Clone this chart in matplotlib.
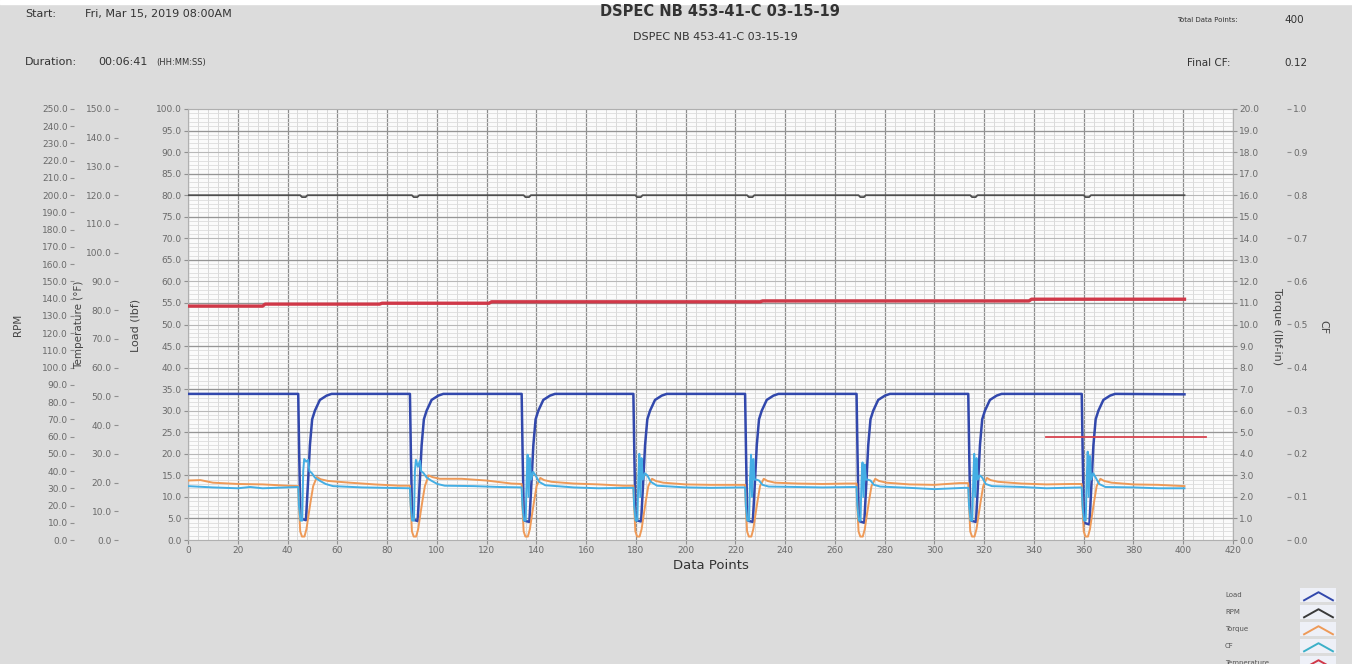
import matplotlib.pyplot as plt
from matplotlib.lines import Line2D
from matplotlib.path import Path
from matplotlib.patches import Rectangle
from matplotlib.ticker import MultipleLocator, FormatStrFormatter

# header values
title = 'DSPEC NB 453-41-C 03-15-19'
start_text = 'Fri, Mar 15, 2019 08:00AM'
duration_text = '00:06:41'
total_points = '400'
final_cf = '0.12'

# Load (lbf)
load_x = [0, 20,
          44.3, 44.7, 45.2, 47.4, 48.3, 49.0, 49.9, 51.0, 53.0, 55.7, 57.7,
          89.2, 89.6, 90.1, 92.3, 93.2, 93.9, 94.8, 95.9, 97.9, 100.6, 102.6,
          134.1, 134.5, 135.0, 137.2, 138.1, 138.8, 139.7, 140.8, 142.8, 145.5, 147.5,
          179.0, 179.4, 179.9, 182.1, 183.0, 183.7, 184.6, 185.7, 187.7, 190.4, 192.4,
          223.9, 224.3, 224.8, 227.0, 227.9, 228.6, 229.5, 230.6, 232.6, 235.3, 237.3,
          268.7, 269.1, 269.6, 271.8, 272.7, 273.4, 274.3, 275.4, 277.4, 280.1, 282.1,
          313.6, 314.0, 314.5, 316.7, 317.6, 318.3, 319.2, 320.3, 322.3, 325.0, 327.0,
          359.2, 359.6, 360.1, 362.3, 363.2, 363.9, 364.8, 365.9, 367.9, 370.6, 372.6,
          400.5]
load_y = [33.9, 33.9,
          33.9, 19.5, 5.0, 4.6, 14.0, 22.0, 28.0, 30.0, 32.5, 33.5, 33.9,
          33.9, 19.5, 4.8, 4.4, 14.0, 22.0, 28.0, 30.0, 32.5, 33.5, 33.9,
          33.9, 19.5, 4.5, 4.2, 14.0, 22.0, 28.0, 30.0, 32.5, 33.5, 33.9,
          33.9, 19.5, 4.6, 4.3, 14.0, 22.0, 28.0, 30.0, 32.5, 33.5, 33.9,
          33.9, 19.5, 4.5, 4.2, 14.0, 22.0, 28.0, 30.0, 32.5, 33.5, 33.9,
          33.9, 19.5, 4.4, 4.0, 14.0, 22.0, 28.0, 30.0, 32.5, 33.5, 33.9,
          33.9, 19.5, 4.5, 4.2, 14.0, 22.0, 28.0, 30.0, 32.5, 33.5, 33.9,
          33.9, 19.5, 4.0, 3.6, 14.0, 22.0, 28.0, 30.0, 32.5, 33.5, 33.9,
          33.8]

# RPM
rpm_x = [0,
         45.1, 45.8, 47.3, 48.0,
         90.0, 90.7, 92.2, 92.9,
         134.9, 135.6, 137.1, 137.8,
         179.8, 180.5, 182.0, 182.7,
         224.7, 225.4, 226.9, 227.6,
         269.5, 270.2, 271.7, 272.4,
         314.4, 315.1, 316.6, 317.3,
         360.0, 360.7, 362.2, 362.9,
         400.5]
rpm_y = [200,
         200, 198.9, 198.9, 200,
         200, 198.9, 198.9, 200,
         200, 198.9, 198.9, 200,
         200, 198.9, 198.9, 200,
         200, 198.9, 198.9, 200,
         200, 198.9, 198.9, 200,
         200, 198.9, 198.9, 200,
         200, 198.9, 198.9, 200,
         200]

# Torque (lbf-in)
torque_x = [0, 5, 10, 20, 30, 40,
            44.3, 44.6, 45.1, 45.8, 46.8, 47.6, 48.5, 49.3, 50.3, 51.8, 53.3, 56.3, 65, 75, 85,
            89.2, 89.5, 90.0, 90.7, 91.7, 92.5, 93.4, 94.2, 95.2, 96.7, 98.2, 101.2, 110, 120, 130,
            134.1, 134.4, 134.9, 135.6, 136.6, 137.4, 138.3, 139.1, 140.1, 141.6, 143.1, 146.1, 155, 165, 175,
            179.0, 179.3, 179.8, 180.5, 181.5, 182.3, 183.2, 184.0, 185.0, 186.5, 188.0, 191.0, 200, 210, 220,
            223.9, 224.2, 224.7, 225.4, 226.4, 227.2, 228.1, 228.9, 229.9, 231.4, 232.9, 235.9, 245, 255, 265,
            268.7, 269.0, 269.5, 270.2, 271.2, 272.0, 272.9, 273.7, 274.7, 276.2, 277.7, 280.7, 290, 300, 310,
            313.6, 313.9, 314.4, 315.1, 316.1, 316.9, 317.8, 318.6, 319.6, 321.1, 322.6, 325.6, 335, 345, 355,
            359.2, 359.5, 360.0, 360.7, 361.7, 362.5, 363.4, 364.2, 365.2, 366.7, 368.2, 371.2, 380, 390, 400.5]
torque_y = [2.76, 2.78, 2.66, 2.60, 2.58, 2.52,
            2.50, 1.60, 0.40, 0.16, 0.16, 0.50, 1.20, 1.80, 2.50, 2.92, 2.82, 2.74, 2.66, 2.58, 2.52,
            2.52, 1.60, 0.40, 0.16, 0.16, 0.50, 1.20, 1.80, 2.50, 3.00, 2.92, 2.84, 2.84, 2.76, 2.62,
            2.60, 1.60, 0.40, 0.16, 0.16, 0.50, 1.20, 1.80, 2.50, 2.88, 2.78, 2.70, 2.62, 2.58, 2.52,
            2.52, 1.60, 0.40, 0.16, 0.16, 0.50, 1.20, 1.80, 2.50, 2.84, 2.74, 2.66, 2.58, 2.56, 2.56,
            2.56, 1.60, 0.40, 0.16, 0.16, 0.50, 1.20, 1.80, 2.50, 2.84, 2.74, 2.66, 2.62, 2.60, 2.62,
            2.62, 1.60, 0.40, 0.16, 0.16, 0.50, 1.20, 1.80, 2.50, 2.84, 2.74, 2.66, 2.58, 2.56, 2.64,
            2.64, 1.60, 0.40, 0.16, 0.16, 0.50, 1.20, 1.80, 2.50, 2.88, 2.78, 2.70, 2.62, 2.58, 2.60,
            2.60, 1.60, 0.40, 0.16, 0.16, 0.50, 1.20, 1.80, 2.50, 2.84, 2.74, 2.66, 2.58, 2.56, 2.50]

# CF
cf_x = [0, 10, 20, 25, 30, 40,
        44.3, 44.6, 45.2, 45.9, 46.3, 46.7, 47.5, 48.3, 48.8, 49.8, 51.0, 52.8, 55.3, 58.3, 70, 80, 88,
        89.2, 89.5, 90.1, 90.8, 91.2, 91.6, 92.4, 93.2, 93.7, 94.7, 95.9, 97.7, 100.2, 103.2, 115, 125, 133,
        134.1, 134.4, 135.0, 135.7, 136.1, 136.5, 136.9, 137.4, 137.9, 138.7, 139.7, 141.1, 143.6, 155, 165, 178,
        179.0, 179.3, 179.9, 180.6, 181.0, 181.4, 181.8, 182.3, 182.8, 183.6, 184.6, 186.0, 188.5, 200, 210, 223,
        223.9, 224.2, 224.8, 225.5, 225.9, 226.3, 226.7, 227.2, 227.7, 228.5, 229.5, 230.9, 233.4, 245, 255, 268,
        268.7, 269.0, 269.6, 270.3, 270.7, 271.1, 271.5, 272.0, 272.5, 273.3, 274.3, 275.7, 278.2, 290, 300, 312,
        313.6, 313.9, 314.5, 315.2, 315.6, 316.0, 316.4, 316.9, 317.4, 318.2, 319.2, 320.6, 323.1, 335, 345, 358,
        359.2, 359.5, 360.1, 360.8, 361.2, 361.6, 362.0, 362.5, 363.0, 363.8, 364.8, 366.2, 368.7, 380, 390, 400.5]
cf_y = [0.125, 0.122, 0.120, 0.123, 0.120, 0.122,
        0.123, 0.080, 0.045, 0.045, 0.160, 0.188, 0.182, 0.186, 0.160, 0.155, 0.145, 0.138, 0.130, 0.125, 0.122, 0.121, 0.120,
        0.120, 0.080, 0.045, 0.045, 0.160, 0.186, 0.170, 0.184, 0.160, 0.155, 0.145, 0.138, 0.130, 0.126, 0.125, 0.123, 0.122,
        0.122, 0.080, 0.045, 0.045, 0.140, 0.198, 0.100, 0.190, 0.140, 0.158, 0.150, 0.135, 0.127, 0.122, 0.120, 0.121,
        0.121, 0.080, 0.045, 0.045, 0.140, 0.200, 0.100, 0.190, 0.140, 0.155, 0.150, 0.135, 0.126, 0.122, 0.121, 0.122,
        0.122, 0.080, 0.045, 0.045, 0.140, 0.198, 0.100, 0.188, 0.140, 0.140, 0.138, 0.128, 0.124, 0.123, 0.122, 0.123,
        0.123, 0.080, 0.045, 0.045, 0.140, 0.180, 0.100, 0.175, 0.140, 0.140, 0.138, 0.128, 0.124, 0.121, 0.118, 0.121,
        0.121, 0.080, 0.045, 0.045, 0.140, 0.200, 0.100, 0.190, 0.140, 0.150, 0.145, 0.130, 0.125, 0.123, 0.120, 0.122,
        0.122, 0.080, 0.045, 0.045, 0.140, 0.205, 0.100, 0.195, 0.140, 0.155, 0.145, 0.130, 0.123, 0.122, 0.120, 0.120]

# Temperature (F)
temp_x = [0, 30, 31, 77, 78, 121, 122, 230, 231, 338, 339, 400.5]
temp_y = [81.4, 81.4, 82.1, 82.1, 82.4, 82.4, 82.9, 82.9, 83.2, 83.2, 83.8, 83.8]
# short red line on the right
ref_x = [345, 409]
ref_y = [35.9, 35.9]

legend_names = ['Load', 'RPM', 'Torque', 'CF', 'Temperature']
legend_colors = ['#3248ac', '#3a3a3a', '#ee9a58', '#3bb0c8', '#d03848']

W, H = 1352, 664
fig = plt.figure(figsize=(W / 100, H / 100), dpi=100, facecolor='#dcdcdc')
fig.add_artist(Rectangle((0, 1 - 4 / H), 1, 4 / H, transform=fig.transFigure, color='white'))


def px(x, y):
    return x / W, 1 - y / H


PT = 72 / 100  # pixels -> points

ax = fig.add_axes([188 / W, 1 - 540 / H, 1045 / W, 431 / H])
ax.set_facecolor('#fbfbfb')
ax.set_xlim(0, 420)
ax.set_ylim(0, 100)
ax.xaxis.set_major_locator(MultipleLocator(20))
ax.xaxis.set_minor_locator(MultipleLocator(4))
ax.yaxis.set_major_locator(MultipleLocator(5))
ax.yaxis.set_minor_locator(MultipleLocator(1))
ax.yaxis.set_major_formatter(FormatStrFormatter('%.1f'))
ax.grid(which='major', axis='x', color='#8c8c8c', lw=0.9)
ax.grid(which='minor', axis='x', color='#d4d4d4', lw=0.6)
ax.grid(which='major', axis='y', color='#b8b8b8', lw=0.8)
ax.grid(which='minor', axis='y', color='#dcdcdc', lw=0.6)
for v in range(5, 100, 10):
    ax.axhline(v, color='#959595', lw=0.9, zorder=0.8)
ax.set_axisbelow(True)
for s in ax.spines.values():
    s.set_color('#b0b0b0')
ax.tick_params(which='minor', length=0)
ax.tick_params(which='major', labelsize=6.5, labelcolor='#6a6a6a', color='#909090',
               length=3, pad=1.5)
ax.set_xlabel('Data Points', fontsize=9.5, color='#333333', labelpad=3)


def side_axis(side, offset_px, lo, hi, step):
    a = ax.twinx()
    a.set_ylim(lo, hi)
    for s in a.spines.values():
        s.set_visible(False)
    if side == 'left':
        a.yaxis.tick_left()
    else:
        a.yaxis.tick_right()
    a.spines[side].set_position(('outward', offset_px * PT))
    a.yaxis.set_major_locator(MultipleLocator(step))
    a.yaxis.set_major_formatter(FormatStrFormatter('%.1f'))
    a.tick_params(labelsize=6.5, labelcolor='#6a6a6a', color='#909090', length=3, pad=1.5)
    return a


ax_rpm = side_axis('left', 114, 0, 250, 10)
ax_temp = side_axis('left', 70, 0, 150, 10)
ax_torque = side_axis('right', 0, 0, 20, 1)
ax_cf = side_axis('right', 54, 0, 1.0, 0.1)

ax.plot(load_x, load_y, color='#3248ac', lw=1.8, zorder=3)
ax_rpm.plot(rpm_x, rpm_y, color='#4f4f4f', lw=1.3)
ax_torque.plot(torque_x, torque_y, color='#ee9a58', lw=1.4)
ax_cf.plot(cf_x, cf_y, color='#44aee4', lw=1.4)
ax_temp.plot(temp_x, temp_y, color='#d03848', lw=2.4)
ax_temp.plot(ref_x, ref_y, color='#d8434f', lw=1.3)

# axis titles
lab = dict(color='#444444', ha='center', va='center')
fig.text(*px(18, 325), 'RPM', rotation=90, fontsize=7.5, **lab)
fig.text(*px(79, 325), 'Temperature (°F)', rotation=90, fontsize=7.5, **lab)
fig.text(*px(135, 325), 'Load (lbf)', rotation=90, fontsize=8, **lab)
fig.text(*px(1277, 327), 'Torque (lbf-in)', rotation=270, fontsize=8, **lab)
fig.text(*px(1323, 327), 'CF', rotation=270, fontsize=8, **lab)

# header
hd = dict(color='#333333', va='center')
fig.text(*px(25, 14), 'Start:', fontsize=8, **hd)
fig.text(*px(85, 14), start_text, fontsize=8, **hd)
fig.text(*px(25, 62), 'Duration:', fontsize=8, **hd)
fig.text(*px(98, 62), duration_text, fontsize=8, **hd)
fig.text(*px(156, 63), '(HH:MM:SS)', fontsize=6, **hd)
fig.text(*px(720, 12), title, fontsize=10.5, fontweight='bold', ha='center', **hd)
fig.text(*px(715, 37), title, fontsize=8, ha='center', **hd)
fig.text(*px(1177, 20), 'Total Data Points:', fontsize=5, **hd)
fig.text(*px(1284, 20), total_points, fontsize=7.5, **hd)
fig.text(*px(1187, 63), 'Final CF:', fontsize=7.5, **hd)
fig.text(*px(1284, 63), final_cf, fontsize=7.5, **hd)

# legend: names on the left, chevron glyphs in light boxes on the right
chevron = Path([(-1, -0.28), (0, 0.28), (1, -0.28)], [Path.MOVETO, Path.LINETO, Path.LINETO])
for i, (name, c) in enumerate(zip(legend_names, legend_colors)):
    y = 595 + 17 * i
    fig.text(*px(1225, y), name, fontsize=5, color='#555555', va='center')
    fig.add_artist(Rectangle(px(1300, y + 7), 36 / W, 14 / H, transform=fig.transFigure,
                             facecolor='#eef0f7', edgecolor='none'))
    fig.add_artist(Line2D([(1318) / W], [1 - (y + 1) / H], transform=fig.transFigure,
                          marker=chevron, markersize=22, color=c, markerfacecolor='none',
                          markeredgewidth=1.4, linestyle='None'))

fig.savefig('out.png', dpi=100, facecolor=fig.get_facecolor())
